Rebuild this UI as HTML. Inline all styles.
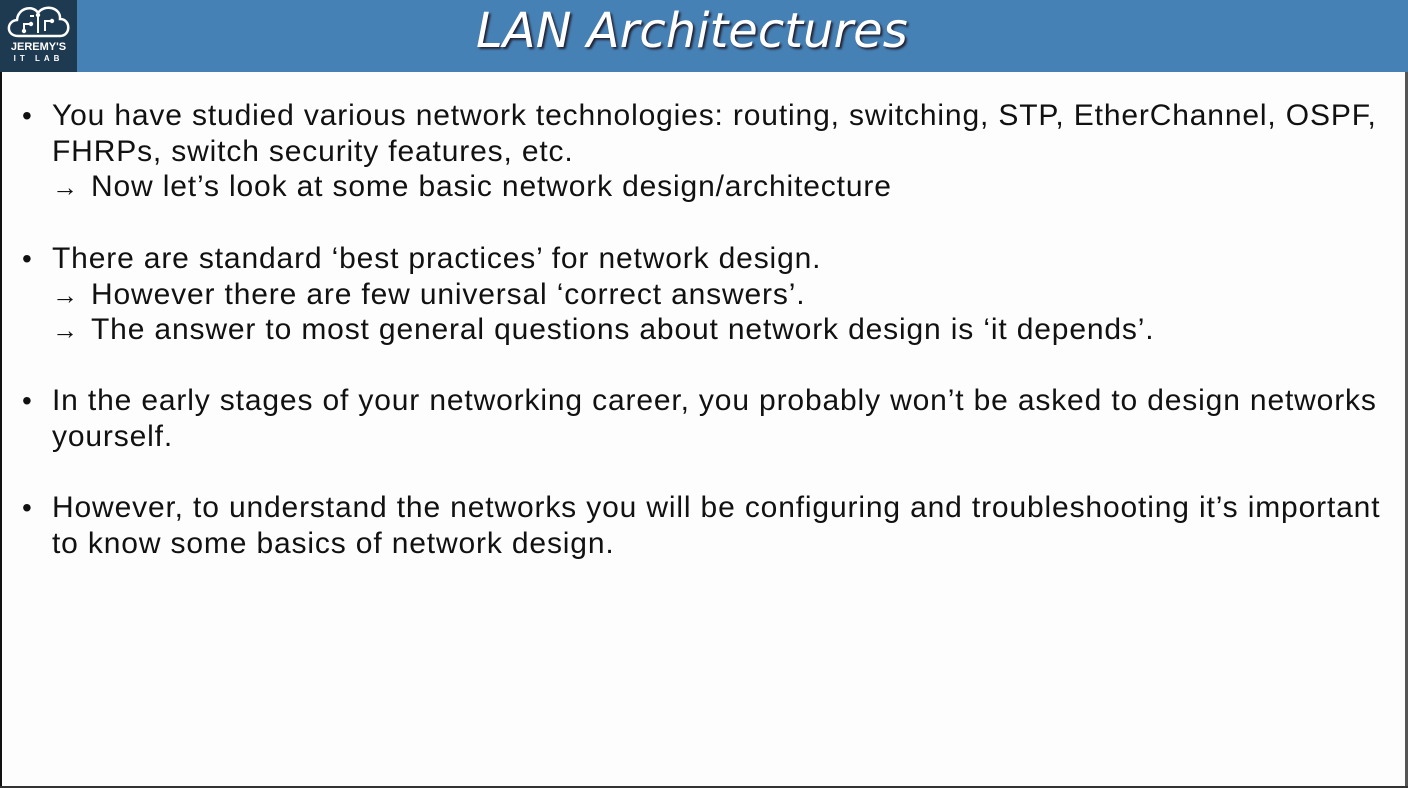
<!DOCTYPE html>
<html><head><meta charset="utf-8"><style>
html,body{margin:0;padding:0;}
body{width:1408px;height:788px;position:relative;overflow:hidden;background:#fdfdfd;font-family:"Liberation Sans",sans-serif;}
#hdr{position:absolute;left:0;top:0;width:1408px;height:72px;background:#4681b5;}
#logo{position:absolute;left:0;top:0;width:77px;height:72px;background:#1e3a50;}
#title{position:absolute;left:476px;top:3px;color:#fff;font-family:"DejaVu Sans",sans-serif;font-style:italic;font-size:48px;text-shadow:2px 2px 2px #223;white-space:nowrap;}
#lb{position:absolute;left:0;top:72px;width:2px;height:716px;background:#111;}
#rb{position:absolute;right:0;top:72px;width:3px;height:716px;background:#555;}
#bb{position:absolute;left:0;bottom:0;width:1408px;height:2px;background:#333;}
.l{position:absolute;left:52px;font-size:30px;letter-spacing:0.85px;color:#111;white-space:nowrap;line-height:36px;}
.b{position:absolute;left:22px;font-size:28px;color:#111;line-height:36px;}
.a{font-size:26px;margin-right:13px;letter-spacing:0;}
.lt{position:absolute;left:0;width:77px;text-align:center;color:#fff;font-weight:bold;}
</style></head><body>
<div id="hdr"></div>
<div id="logo">
<svg width="77" height="42" style="position:absolute;left:0;top:0" viewBox="0 0 77 42">
<path d="M18 36 C6 36 6 21 17 20 C18 7 34 5 38 13 C44 4 61 7 60 19 C71 19 71 36 60 36 Z" fill="none" stroke="#fff" stroke-width="2.5"/>
<g stroke="#fff" stroke-width="2" fill="none"><path d="M24 31 V24 H31"/><path d="M38 33 V15"/><path d="M45 31 V21 H52"/><path d="M30 16 H34"/></g>
<g fill="#fff"><circle cx="24" cy="31" r="2.2"/><circle cx="38" cy="15" r="2.2"/><circle cx="52" cy="21" r="2.2"/><circle cx="31" cy="24" r="2.2"/></g>
</svg>
<div class="lt" style="top:41px;font-size:11px;">JEREMY'S</div>
<div class="lt" style="top:54px;font-size:8px;letter-spacing:4px;">IT LAB</div>
</div>
<div id="title">LAN Architectures</div>
<div id="lb"></div><div id="rb"></div><div id="bb"></div>

<div class="b" style="top:98px">•</div>
<div class="l" style="top:98px">You have studied various network technologies: routing, switching, STP, EtherChannel, OSPF,</div>
<div class="l" style="top:134px">FHRPs, switch security features, etc.</div>
<div class="l" style="top:169px"><span class="a">→</span>Now let’s look at some basic network design/architecture</div>

<div class="b" style="top:241px">•</div>
<div class="l" style="top:241px">There are standard ‘best practices’ for network design.</div>
<div class="l" style="top:277px"><span class="a">→</span>However there are few universal ‘correct answers’.</div>
<div class="l" style="top:312px"><span class="a">→</span>The answer to most general questions about network design is ‘it depends’.</div>

<div class="b" style="top:383px">•</div>
<div class="l" style="top:383px">In the early stages of your networking career, you probably won’t be asked to design networks</div>
<div class="l" style="top:419px">yourself.</div>

<div class="b" style="top:490px">•</div>
<div class="l" style="top:490px">However, to understand the networks you will be configuring and troubleshooting it’s important</div>
<div class="l" style="top:526px">to know some basics of network design.</div>
</body></html>
